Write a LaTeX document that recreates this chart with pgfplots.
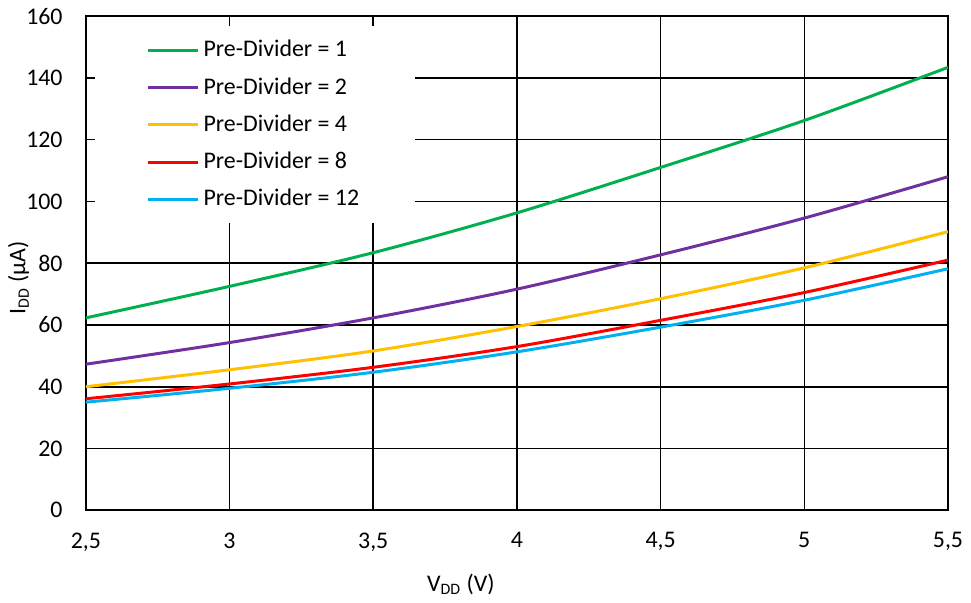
\documentclass[border=0pt]{standalone}
\usepackage{pgfplots}
\pgfplotsset{compat=1.18}
\usepackage{fontspec}
\setmainfont{Carlito}

\definecolor{xlgreen}{HTML}{00B050}
\definecolor{xlpurple}{HTML}{7030A0}
\definecolor{xlyellow}{HTML}{FFC000}
\definecolor{xlred}{HTML}{FF0000}
\definecolor{xlblue}{HTML}{00B0F0}

\begin{document}
\fontsize{12pt}{14.4pt}\selectfont
\begin{tikzpicture}
  \begin{axis}[
      scale only axis,
      width=433.5pt,
      height=248.5pt,
      xmin=2.5, xmax=5.5,
      ymin=0, ymax=160,
      xtick={2.5,3,3.5,4,4.5,5,5.5},
      ytick={0,20,40,60,80,100,120,140,160},
      /pgf/number format/use comma,
      /pgf/number format/assume math mode=true,
      tick label style={font=\fontsize{12pt}{14.4pt}\selectfont},
      yticklabel style={xshift=-7.5pt},
      xticklabel style={yshift=-7pt},
      major tick length=0pt,
      grid=major,
      grid style={line width=0.8pt, draw=black},
      axis line style={line width=1pt},
      xlabel={V\textsubscript{DD} (V)},
      ylabel={I\textsubscript{DD} (µA)},
      xlabel style={at={(axis description cs:0.435,-0.15)}, anchor=center},
      ylabel style={at={(axis description cs:-0.078,0.47)}, anchor=center},
      label style={font=\fontsize{12pt}{14.4pt}\selectfont},
      legend style={at={(0.0104,0.98)}, anchor=north west, draw=none,
        fill=white, font=\fontsize{12pt}{14.4pt}\selectfont,
        inner xsep=26pt, inner ysep=5pt,
        row sep=4.6pt, cells={anchor=west}},
      legend image code/.code={\draw[#1, line width=1.5pt] (0pt,0pt) -- (25pt,0pt);},
      every axis plot/.append style={line width=1.5pt, smooth},
    ]
    \addplot[color=xlgreen] coordinates {
      (2.5,62.3)(3,72.5)(3.5,83.4)(4,96.3)(4.5,111)(5,126.2)(5.5,143.4)};
    \addlegendentry{Pre-Divider = 1}
    \addplot[color=xlpurple] coordinates {
      (2.5,47.3)(3,54.3)(3.5,62.3)(4,71.6)(4.5,82.7)(5,94.6)(5.5,108)};
    \addlegendentry{Pre-Divider = 2}
    \addplot[color=xlyellow] coordinates {
      (2.5,40)(3,45.5)(3.5,51.6)(4,59.5)(4.5,68.5)(5,78.5)(5.5,90.2)};
    \addlegendentry{Pre-Divider = 4}
    \addplot[color=xlred] coordinates {
      (2.5,36.1)(3,40.9)(3.5,46.3)(4,53)(4.5,61.5)(5,70.5)(5.5,81)};
    \addlegendentry{Pre-Divider = 8}
    \addplot[color=xlblue] coordinates {
      (2.5,35)(3,39.5)(3.5,44.7)(4,51.3)(4.5,59.3)(5,68)(5.5,78.2)};
    \addlegendentry{Pre-Divider = 12}
  \end{axis}
\end{tikzpicture}
\end{document}
